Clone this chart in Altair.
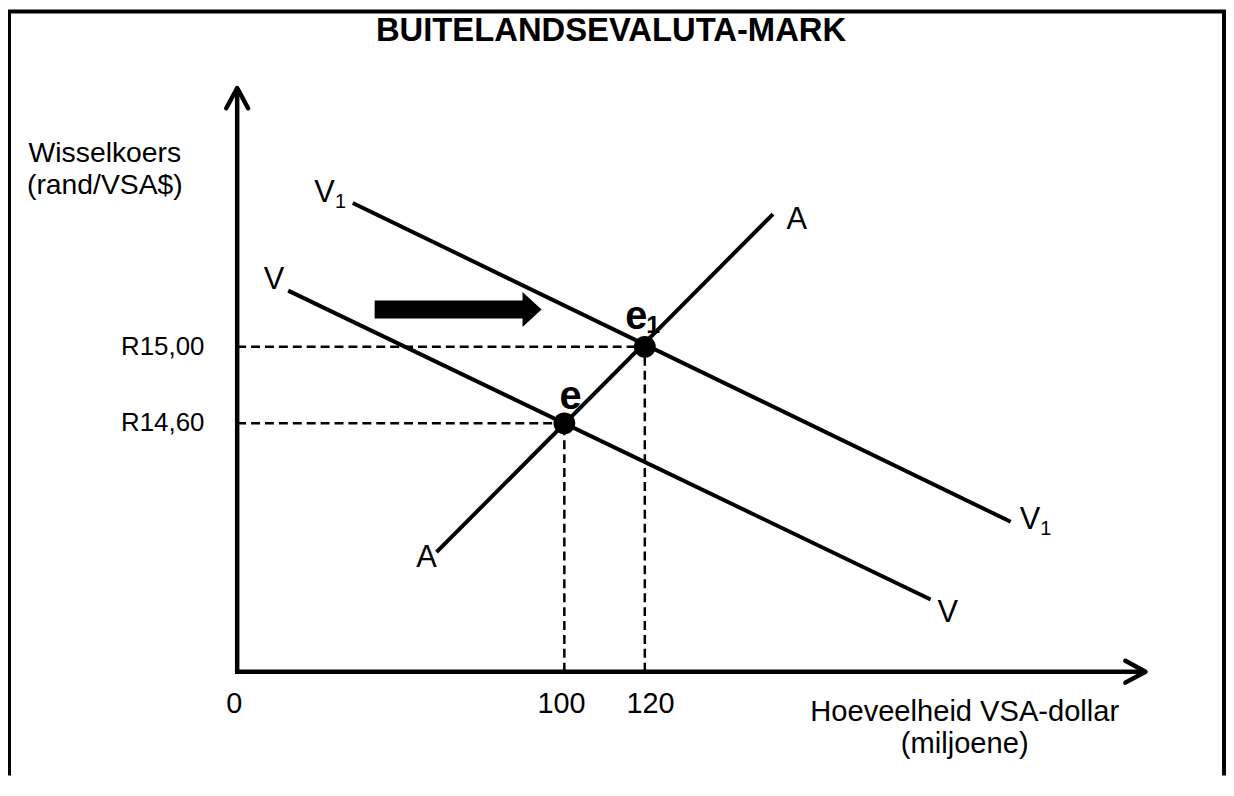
import altair as alt
import pandas as pd

# ---------------- data (quantity in millions of US$, rate in rand per US$) ----------------
X_DOMAIN = [-38.27, 262.47]
Y_DOMAIN = [12.7584, 16.7584]

AXIS_ORIGIN_Q = 18.69      # where the drawn axes meet (labelled "0")
AXIS_ORIGIN_R = 13.301
AXIS_TOP_R = 16.353
AXIS_END_Q = 244.45

CURVES = ["A", "V", "V1"]
CURVE_Q0 = [68.22, 31.36, 47.41]
CURVE_R0 = [13.926, 15.2935, 15.752]
CURVE_Q1 = [151.85, 191.04, 210.94]
CURVE_R1 = [15.694, 13.679, 14.085]

EQ_Q = [100, 120]
EQ_R = [14.60, 15.00]
EQ_TEXT = ["e", "e"]
EQ_SUB = ["", "1"]
EQ_LABEL_Q = [101.53, 117.90]
EQ_LABEL_R = [14.739, 15.157]

RATE_TICK_LABELS = ["R14,60", "R15,00"]
QTY_TICK_LABELS = ["0", "100", "120"]
QTY_TICK_LABEL_Q = [17.95, 99.3, 121.4]

CURVE_LABEL_TEXT = ["V", "V", "A", "A", "V", "V"]
CURVE_LABEL_SUB = ["1", "", "", "", "1", ""]
CURVE_LABEL_Q = [40.42, 27.85, 157.78, 65.75, 215.73, 195.31]
CURVE_LABEL_R = [15.804, 15.350, 15.665, 13.894, 14.095, 13.609]

SHIFT_Q = [73.6]
SHIFT_R = [15.195]

TITLE = "BUITELANDSEVALUTA-MARK"
Y_TITLE = "Wisselkoers\n(rand/VSA$)"
Y_TITLE_Q = [-14.2]
Y_TITLE_R = [15.964]
X_TITLE = "Hoeveelheid VSA-dollar\n(miljoene)"
X_TITLE_Q = [199.51]
X_TITLE_R = [13.043]

# ---------------- styling ----------------
FONT = "Liberation Sans"
W, H = 1218, 770
CHEVRON = "M-1,1.85L0,0L1,1.85"
SHIFT_ARROW = "M-1,-0.108L0.772,-0.108L0.772,-0.21L1,0L0.772,0.21L0.772,0.108L-1,0.108Z"

xs = alt.Scale(domain=X_DOMAIN, nice=False, zero=False)
ys = alt.Scale(domain=Y_DOMAIN, nice=False, zero=False)


def X(f):
    return alt.X(f, type="quantitative", scale=xs, axis=None)


def Y(f):
    return alt.Y(f, type="quantitative", scale=ys, axis=None)


# dashed guide lines
guide_rows = []
for q, r in zip(EQ_Q, EQ_R):
    guide_rows.append(dict(x=AXIS_ORIGIN_Q, y=r, x2=q, y2=r))
    guide_rows.append(dict(x=q, y=AXIS_ORIGIN_R, x2=q, y2=r))
guides = alt.Chart(pd.DataFrame(guide_rows)).mark_rule(
    strokeDash=[9, 5], strokeWidth=2.5, color="black"
).encode(x=X("x"), y=Y("y"), x2="x2", y2="y2")

# demand / supply curves
curve_df = pd.DataFrame(dict(name=CURVES, x=CURVE_Q0, y=CURVE_R0, x2=CURVE_Q1, y2=CURVE_R1))
curves = alt.Chart(curve_df).mark_rule(strokeWidth=4, color="black").encode(
    x=X("x"), y=Y("y"), x2="x2", y2="y2", detail="name:N"
)

# axes (one polyline)
axes_df = pd.DataFrame(dict(
    x=[AXIS_ORIGIN_Q, AXIS_ORIGIN_Q, AXIS_END_Q],
    y=[AXIS_TOP_R, AXIS_ORIGIN_R, AXIS_ORIGIN_R],
    o=[0, 1, 2],
))
axes = alt.Chart(axes_df).mark_line(
    strokeWidth=4.5, color="black", strokeJoin="miter", strokeCap="butt"
).encode(x=X("x"), y=Y("y"), order="o:Q")

# arrow heads
heads_df = pd.DataFrame(dict(
    x=[AXIS_ORIGIN_Q, AXIS_END_Q], y=[AXIS_TOP_R, AXIS_ORIGIN_R], ang=[0, 90]
))
heads = alt.Chart(heads_df).mark_point(
    shape=CHEVRON, size=484, filled=False, strokeWidth=4.5, color="black",
    opacity=1, strokeJoin="round", strokeCap="round"
).encode(x=X("x"), y=Y("y"), angle=alt.Angle("ang:Q", scale=None))

# shift arrow
shift = alt.Chart(pd.DataFrame(dict(x=SHIFT_Q, y=SHIFT_R))).mark_point(
    shape=SHIFT_ARROW, size=28224, filled=True, color="black", opacity=1, strokeWidth=0
).encode(x=X("x"), y=Y("y"))

# equilibrium points
eq_df = pd.DataFrame(dict(x=EQ_Q, y=EQ_R))
dots = alt.Chart(eq_df).mark_circle(size=480, color="black", opacity=1).encode(
    x=X("x"), y=Y("y")
)

# equilibrium labels
eql_df = pd.DataFrame(dict(x=EQ_LABEL_Q, y=EQ_LABEL_R, t=EQ_TEXT, s=EQ_SUB))
eq_main = alt.Chart(eql_df).mark_text(
    font=FONT, fontSize=40, fontWeight="bold", align="center", baseline="middle", color="black"
).encode(x=X("x"), y=Y("y"), text="t:N")
eq_sub = alt.Chart(eql_df).mark_text(
    font=FONT, fontSize=25, fontWeight="bold", align="center", baseline="middle",
    color="black", dx=17, dy=8
).encode(x=X("x"), y=Y("y"), text="s:N")

# curve labels
cl_df = pd.DataFrame(dict(x=CURVE_LABEL_Q, y=CURVE_LABEL_R, t=CURVE_LABEL_TEXT, s=CURVE_LABEL_SUB))
cl_main = alt.Chart(cl_df).mark_text(
    font=FONT, fontSize=31, align="center", baseline="middle", color="black"
).encode(x=X("x"), y=Y("y"), text="t:N")
cl_sub = alt.Chart(cl_df).mark_text(
    font=FONT, fontSize=20, align="center", baseline="middle", color="black", dx=16, dy=9
).encode(x=X("x"), y=Y("y"), text="s:N")

# rate tick labels
rate_df = pd.DataFrame(dict(x=[AXIS_ORIGIN_Q] * 2, y=EQ_R, t=RATE_TICK_LABELS))
rate_lbl = alt.Chart(rate_df).mark_text(
    font=FONT, fontSize=26, align="right", baseline="middle", color="black", dx=-33
).encode(x=X("x"), y=Y("y"), text="t:N")

# quantity tick labels
qty_df = pd.DataFrame(dict(x=QTY_TICK_LABEL_Q, y=[AXIS_ORIGIN_R] * 3, t=QTY_TICK_LABELS))
qty_lbl = alt.Chart(qty_df).mark_text(
    font=FONT, fontSize=29, align="center", baseline="alphabetic", color="black", dy=41.5
).encode(x=X("x"), y=Y("y"), text="t:N")

# axis titles
yt = alt.Chart(pd.DataFrame(dict(x=Y_TITLE_Q, y=Y_TITLE_R, t=[Y_TITLE]))).mark_text(
    font=FONT, fontSize=28.5, align="center", baseline="alphabetic", color="black",
    lineBreak="\n", lineHeight=32
).encode(x=X("x"), y=Y("y"), text="t:N")
xt = alt.Chart(pd.DataFrame(dict(x=X_TITLE_Q, y=X_TITLE_R, t=[X_TITLE]))).mark_text(
    font=FONT, fontSize=29.3, align="center", baseline="alphabetic", color="black",
    lineBreak="\n", lineHeight=32
).encode(x=X("x"), y=Y("y"), text="t:N")

# chart title and frame
one = pd.DataFrame(dict(k=[0]))
title = alt.Chart(one).mark_text(
    font=FONT, fontSize=33, fontWeight="bold", align="center", baseline="alphabetic", color="black"
).encode(x=alt.value(607), y=alt.value(31), text=alt.value(TITLE))
frame_left = alt.Chart(one).mark_rule(color="black", strokeWidth=4).encode(
    x=alt.value(1), y=alt.value(0), y2=alt.value(H)
)
frame_top = alt.Chart(one).mark_rule(color="black", strokeWidth=4).encode(
    x=alt.value(0), x2=alt.value(1226), y=alt.value(1)
)
frame_right = alt.Chart(one).mark_rule(color="black", strokeWidth=4).encode(
    x=alt.value(1224), y=alt.value(0), y2=alt.value(H)
)

chart = alt.layer(
    guides, curves, axes, heads, shift, dots, eq_main, eq_sub, cl_main, cl_sub,
    rate_lbl, qty_lbl, yt, xt, title, frame_left, frame_top, frame_right
).properties(
    width=W, height=H,
    autosize=alt.AutoSizeParams(type="none"),
    padding={"left": 0, "top": 0, "right": 8, "bottom": 0},
    background="white",
).configure_view(stroke=None)

chart.save("out.html", embed_options={"renderer": "svg", "actions": False})
